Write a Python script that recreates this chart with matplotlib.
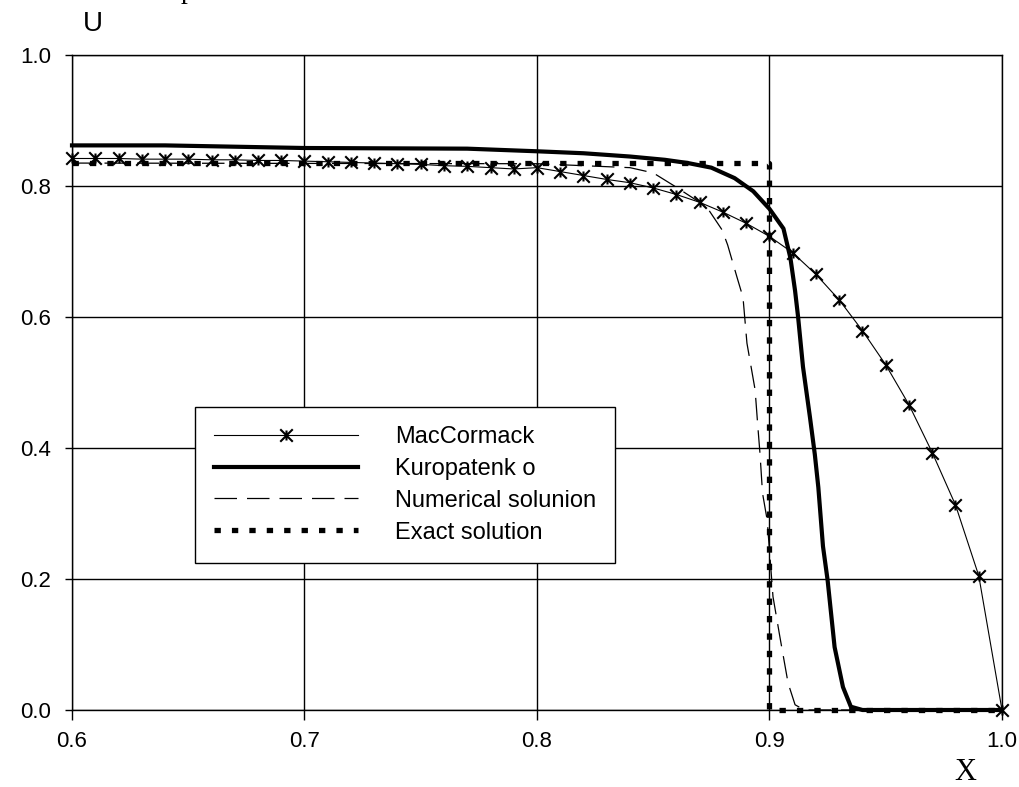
import numpy as np
import matplotlib.pyplot as plt
from matplotlib.path import Path

plt.rcParams['font.family'] = ['Liberation Sans', 'DejaVu Sans']

# MacCormack (thin line, star markers every 0.01)
mac_x = [0.60, 0.61, 0.62, 0.63, 0.64, 0.65, 0.66, 0.67, 0.68, 0.69,
         0.70, 0.71, 0.72, 0.73, 0.74, 0.75, 0.76, 0.77, 0.78, 0.79,
         0.80, 0.81, 0.82, 0.83, 0.84, 0.85, 0.86, 0.87, 0.88, 0.89,
         0.90, 0.91, 0.92, 0.93, 0.94, 0.95, 0.96, 0.97, 0.98, 0.99, 1.00]
mac_y = [0.842, 0.842, 0.842, 0.841, 0.841, 0.841, 0.840, 0.840, 0.839, 0.839,
         0.838, 0.837, 0.836, 0.835, 0.834, 0.833, 0.831, 0.830, 0.828, 0.826,
         0.828, 0.822, 0.816, 0.810, 0.805, 0.797, 0.787, 0.775, 0.760, 0.743,
         0.723, 0.698, 0.665, 0.626, 0.579, 0.527, 0.466, 0.393, 0.313, 0.205, 0.0]

# Kuropatenko (thick solid)
kur_x = [0.600, 0.640, 0.700, 0.770, 0.800, 0.820, 0.840, 0.855, 0.865, 0.875,
         0.885, 0.893, 0.900, 0.906, 0.909, 0.911, 0.9123, 0.9144, 0.9174, 0.9195,
         0.921, 0.923, 0.925, 0.928, 0.9316, 0.935, 0.940, 1.000]
kur_y = [0.862, 0.862, 0.858, 0.857, 0.853, 0.850, 0.845, 0.840, 0.835, 0.828,
         0.812, 0.792, 0.765, 0.735, 0.690, 0.640, 0.600, 0.524, 0.447, 0.390,
         0.340, 0.250, 0.198, 0.096, 0.035, 0.005, 0.0, 0.0]

# Numerical solution (thin dashed)
num_x = [0.600, 0.800, 0.840, 0.850, 0.860, 0.873, 0.8796, 0.882, 0.886, 0.8886,
         0.8903, 0.8938, 0.895, 0.8959, 0.897, 0.899, 0.9015, 0.9045, 0.908, 0.911,
         0.915, 1.000]
num_y = [0.835, 0.834, 0.828, 0.820, 0.798, 0.768, 0.733, 0.710, 0.661, 0.630,
         0.560, 0.489, 0.432, 0.392, 0.331, 0.290, 0.173, 0.111, 0.041, 0.008,
         0.0, 0.0]

# Exact solution (square dots)
ex_x = [0.6, 0.9, 0.9, 1.0]
ex_y = [0.835, 0.835, 0.0, 0.0]

labels = ['MacCormack', 'Kuropatenk o', 'Numerical solunion', 'Exact solution']

star = Path([(-1, -1), (1, 1), (-1, 1), (1, -1), (0, -0.8), (0, 0.8)],
            [Path.MOVETO, Path.LINETO, Path.MOVETO, Path.LINETO, Path.MOVETO, Path.LINETO])

fig = plt.figure(figsize=(10.2, 7.87), dpi=100)
ax = fig.add_axes([72 / 1020, 1 - 710 / 787, 930 / 1020, 655 / 787])

ax.plot(mac_x, mac_y, color='black', lw=0.8, marker=star, ms=9, mew=1.5,
        label=labels[0], clip_on=False, zorder=3)
ax.plot(kur_x, kur_y, color='black', lw=3.0, label=labels[1],
        clip_on=False, zorder=4, solid_joinstyle='round')
ax.plot(num_x, num_y, color='black', lw=0.9, dashes=(18, 8),
        label=labels[2], clip_on=False, zorder=3)
ax.plot(ex_x, ex_y, color='black', lw=3.8, dashes=(1.2, 2.1),
        dash_capstyle='butt', label=labels[3], clip_on=False, zorder=5)

ax.set_xlim(0.6, 1.0)
ax.set_ylim(0.0, 1.0)
ax.set_xticks([0.6, 0.7, 0.8, 0.9, 1.0])
ax.set_yticks([0.0, 0.2, 0.4, 0.6, 0.8, 1.0])
ax.set_xticklabels(['0.6', '0.7', '0.8', '0.9', '1.0'])
ax.set_yticklabels(['0.0', '0.2', '0.4', '0.6', '0.8', '1.0'])
ax.tick_params(axis='y', direction='out', length=5, width=1, pad=10, labelsize=16)
ax.tick_params(axis='x', direction='out', length=7, width=1, pad=8, labelsize=16)
ax.grid(True, color='black', lw=1.0)
ax.set_axisbelow(True)
for s in ax.spines.values():
    s.set_color('black')
    s.set_linewidth(1.0)

leg = ax.legend(loc='upper left', bbox_to_anchor=(0.132, 0.4626), borderaxespad=0,
                fontsize=17, handlelength=6.1, handletextpad=1.6, labelspacing=0.42,
                borderpad=0.8, fancybox=False, framealpha=1, edgecolor='black',
                numpoints=1)
leg.get_frame().set_linewidth(1.0)

fig.text(93 / 1020, 1 - 24 / 787, 'U', fontsize=20, ha='center', va='center')
fig.text(965 / 1020, 1 - 772 / 787, 'X', fontsize=22, ha='center', va='center',
         family='Liberation Serif')
fig.text(188 / 1020, 1.003, 'p', fontsize=20, ha='center', va='baseline',
         family='Liberation Serif')

fig.savefig('out.png', dpi=100)
